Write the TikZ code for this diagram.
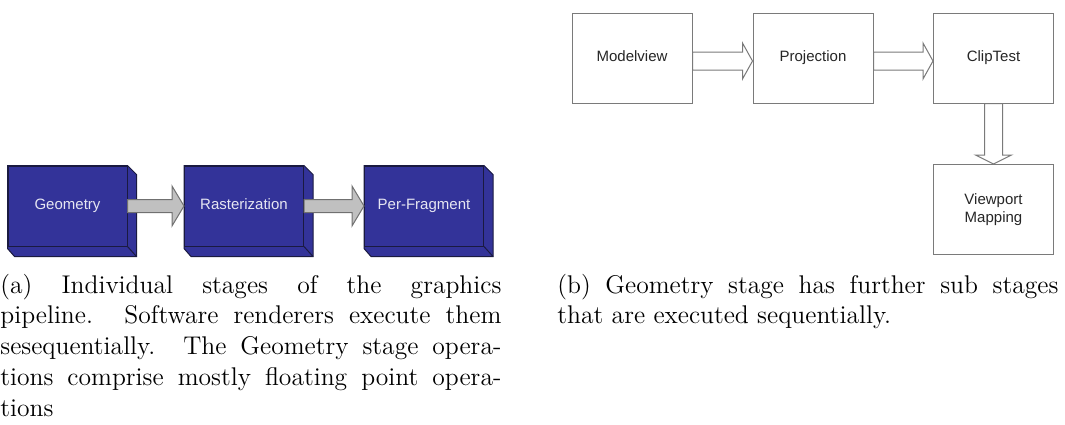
\documentclass[tikz,border=0pt]{standalone}
\usepackage{fontspec}
\newfontfamily\boxfont{Liberation Sans}
\usetikzlibrary{calc,backgrounds}
\definecolor{stageblue}{HTML}{333399}
\definecolor{stageedge}{HTML}{1A1A40}
\definecolor{stagetext}{HTML}{E6E6F2}
\definecolor{arrowgray}{HTML}{C0C0C0}
\definecolor{arrowedge}{HTML}{707070}
\definecolor{boxedge}{HTML}{7A7A7A}
\begin{document}
\begin{tikzpicture}[x=0.5pt,y=-0.5pt,
  stage/.style={draw=stageedge, fill=stageblue, line width=0.5pt, minimum width=59.5pt, minimum height=40pt, inner sep=0pt, text height=5.4pt, text depth=1.6pt, text=stagetext, font=\boxfont\fontsize{7.5}{9}\selectfont},
  side/.style={draw=stageedge, fill=stageblue, line width=0.5pt},
  grayarrow/.style={draw=arrowedge, fill=arrowgray, line width=0.5pt},
  substage/.style={draw=boxedge, fill=white, line width=0.5pt, minimum width=60pt, minimum height=45pt, inner sep=0pt, text=black!85, align=center, font=\boxfont\fontsize{7.5}{9}\selectfont},
  oneline/.style={text height=5.4pt, text depth=1.6pt},
  whitearrow/.style={draw=boxedge, fill=white, line width=0.5pt},
  caption/.style={anchor=base west, inner sep=0pt, text width=250.5pt, align=justify, font=\fontsize{12.8}{15.4}\selectfont}
]
\useasboundingbox (0,0) rectangle (1065,424);

% (a) pipeline stages
\node[stage] (geo) at (67.5,206) {Geometry};
\node[stage] (ras) at (244,206) {Rasterization};
\node[stage] (frag) at (424,206) {Per-Fragment};
\begin{scope}[on background layer]
\foreach \n in {geo,ras,frag}{
  \filldraw[side] (\n.north west) -- (\n.north east) -- ++(9,9) -- ($(\n.south east)+(9,10)$) -- ($(\n.south west)+(7,10)$) -- ($(\n.south west)+(0,2)$) -- cycle;
  \draw[side] (\n.south east) -- ++(9,10);
}
\end{scope}
\draw[grayarrow] ($(geo.east)+(0,-6.5)$) -- ($(ras.west)+(-12,-6.5)$) -- ($(ras.west)+(-12,-20)$) -- (ras.west) -- ($(ras.west)+(-12,20)$) -- ($(ras.west)+(-12,6.5)$) -- ($(geo.east)+(0,6.5)$) -- cycle;
\draw[grayarrow] ($(ras.east)+(0,-6.5)$) -- ($(frag.west)+(-12,-6.5)$) -- ($(frag.west)+(-12,-20)$) -- (frag.west) -- ($(frag.west)+(-12,20)$) -- ($(frag.west)+(-12,6.5)$) -- ($(ras.east)+(0,6.5)$) -- cycle;

% (b) geometry sub stages
\node[substage, oneline] (mv) at (632,58) {Modelview};
\node[substage, oneline] (pr) at (813,58) {Projection};
\node[substage, oneline] (clip) at (993.5,58) {ClipTest};
\node[substage] (vp) at (993.5,209.5) {Viewport\\Mapping};
\draw[whitearrow] ($(mv.east)+(0,-6)$) -- ($(pr.west)+(-10,-6)$) -- ($(pr.west)+(-10,-15)$) -- ($(pr.west)+(0,3)$) -- ($(pr.west)+(-10,21)$) -- ($(pr.west)+(-10,12)$) -- ($(mv.east)+(0,12)$) -- cycle;
\draw[whitearrow] ($(pr.east)+(0,-6)$) -- ($(clip.west)+(-10,-6)$) -- ($(clip.west)+(-10,-15)$) -- ($(clip.west)+(0,3)$) -- ($(clip.west)+(-10,21)$) -- ($(clip.west)+(-10,12)$) -- ($(pr.east)+(0,12)$) -- cycle;
\draw[whitearrow] ($(clip.south)+(-9,0)$) -- ($(vp.north)+(-9,-9)$) -- ($(vp.north)+(-18,-9)$) -- (vp.north) -- ($(vp.north)+(18,-9)$) -- ($(vp.north)+(9,-9)$) -- ($(clip.south)+(9,0)$) -- cycle;

% captions
\node[caption] (capa) at (0,293) {\tolerance=10000\relax(a) Individual stages of the graphics\linebreak pipeline. Software renderers execute them\linebreak sesequentially. The Geometry stage opera-\linebreak tions comprise mostly floating point opera-\linebreak tions};
\node[caption] (capb) at (557,293) {\tolerance=10000\relax(b) Geometry stage has further sub stages\linebreak that are executed sequentially.};
\end{tikzpicture}
\end{document}
